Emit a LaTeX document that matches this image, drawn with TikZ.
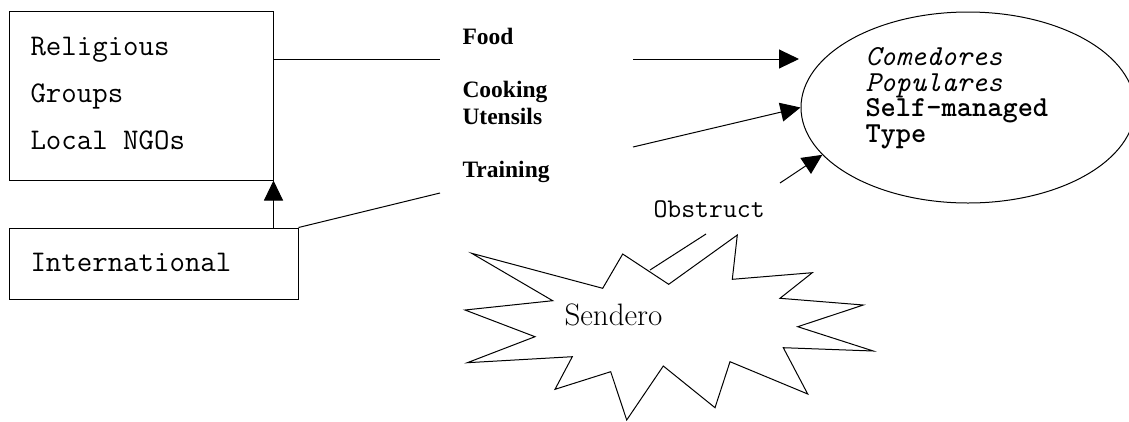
\documentclass[tikz,border=0pt]{standalone}
\usepackage{fontspec}
\usetikzlibrary{arrows.meta,shapes.geometric,calc}
\newfontfamily\timesfont{Liberation Serif}
\begin{document}
\begin{tikzpicture}[x=1pt,y=-1pt,
  line width=1pt,
  arr/.style={-{Triangle[length=20pt,width=19pt]}},
  boxnode/.style={draw,rectangle,inner sep=0pt},
  monotxt/.style={anchor=base west,inner sep=0pt,font=\ttfamily\fontsize{30}{30}\selectfont},
  flowtxt/.style={anchor=base west,inner sep=0pt,font=\timesfont\bfseries\fontsize{23.5}{23.5}\selectfont},
]
\useasboundingbox (0,0) rectangle (1129,421);
% boxes
\node[boxnode,minimum width=264pt,minimum height=169pt] (box1) at (141,95.5) {};
\node[boxnode,minimum width=289pt,minimum height=71pt] (box2) at (153.5,263.5) {};
\node[monotxt] (t1) at (30,55) {Religious};
\node[monotxt] (t2) at (30,102) {Groups};
\node[monotxt] (t3) at (30,149) {Local NGOs};
\node[monotxt] (t4) at (30,271) {International};
% ellipse
\node[draw,ellipse,inner sep=0pt,minimum width=334pt,minimum height=191pt] (ell) at (968,107.5) {};
\node[anchor=base west,inner sep=0pt,align=left,font=\ttfamily\fontsize{29}{25.5}\selectfont] (etext) at (865,142)
  {{\itshape Comedores}\\{\itshape Populares}\\{\bfseries Self-managed}\\{\bfseries Type}};
% flow labels
\node[flowtxt] (food) at (462,44) {Food};
\node[flowtxt] (cook) at (462,97) {Cooking};
\node[flowtxt] (uten) at (462,124) {Utensils};
\node[flowtxt] (train) at (462,177) {Training};
\node[monotxt,font=\ttfamily\fontsize{27}{27}\selectfont] (obs) at (653,217) {Obstruct};
% coordinates
\coordinate (foodL) at (440,59);
\coordinate (trainL) at (440,193);
\coordinate (foodR) at (633,59);
\coordinate (foodtip) at (799,59);
\coordinate (utR) at (633,147);
\coordinate (obsR) at (780,183);
\coordinate (starA) at (650,270);
\coordinate (obsL) at (706,234);
% connectors
\draw (box1.east |- foodL) -- (foodL);
\draw (box2.north east) -- (trainL);
\draw[arr] (box2.north east -| box1.south east) -- (box1.south east);
\draw[arr] (foodR) -- (foodtip);
\draw[arr] (utR) -- (ell.west);
\draw[arr] (obsR) -- (ell.198.5);
% star
\draw[line join=miter] (471.7,253.3) -- (602.7,288.3) -- (622.7,254) -- (668.7,284.3)
  -- (737.3,235) -- (732.3,279.3) -- (812.3,272.7) -- (780,298.3) -- (863.3,305)
  -- (797.7,326.7) -- (873.3,351) -- (783.3,347.7) -- (807.7,394) -- (730,361.7)
  -- (715,407.7) -- (663.3,366) -- (626.7,420) -- (610.7,371.7) -- (555,389.3)
  -- (572.3,356.7) -- (467.3,362.7) -- (535,336.7) -- (465,310) -- (552.7,300.7) -- cycle;
\node[anchor=base west,inner sep=0pt,font=\fontsize{31}{31}\selectfont] (send) at (564,325.7) {Sendero};
\draw (starA) -- (obsL);
\end{tikzpicture}
\end{document}
